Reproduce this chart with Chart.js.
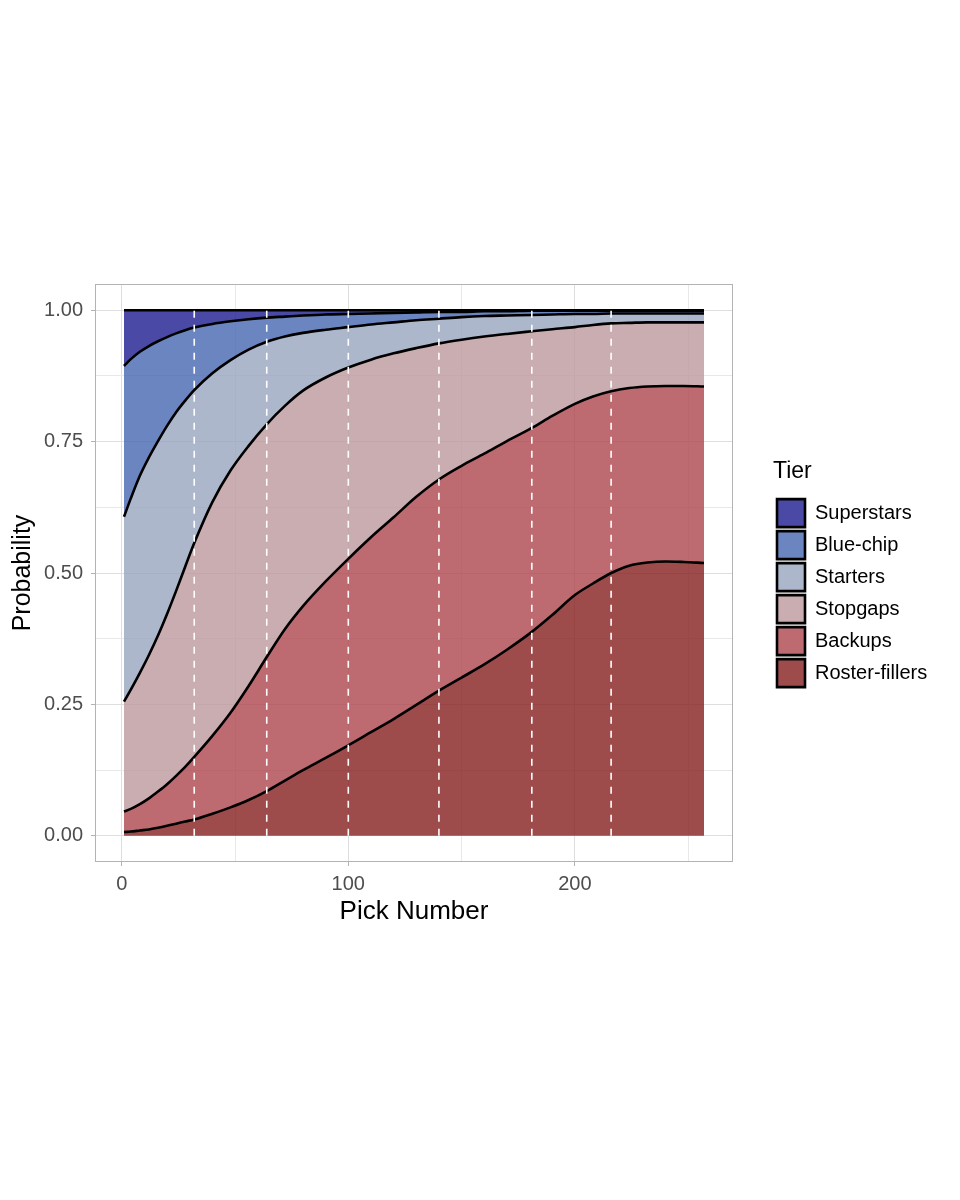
<!DOCTYPE html>
<html>
<head>
<meta charset="utf-8">
<script src="https://cdn.jsdelivr.net/npm/chart.js@4.4.1/dist/chart.umd.min.js"></script>
<style>
html, body { margin: 0; padding: 0; background: #ffffff; }
canvas { display: block; }
</style>
</head>
<body>
<canvas id="chart" width="960" height="1200" style="width:960px;height:1200px"></canvas>
<script>
// ---------- data ----------
const pickNumbers   = [1, 4, 8, 12, 16, 20, 24, 28, 32, 40, 48, 56, 64, 72, 80, 90, 100, 110, 120, 130, 140, 150, 160, 170, 181, 190, 200, 208, 216, 224, 232, 240, 248, 257];

const rosterFillers = [0.007, 0.008, 0.010, 0.012, 0.015, 0.019, 0.023, 0.027, 0.031, 0.042, 0.054, 0.068, 0.085, 0.105, 0.125, 0.148, 0.172, 0.197, 0.222, 0.249, 0.276, 0.301, 0.326, 0.354, 0.388, 0.420, 0.458, 0.480, 0.500, 0.514, 0.520, 0.522, 0.521, 0.519];
const backups       = [0.039, 0.043, 0.050, 0.059, 0.069, 0.079, 0.091, 0.104, 0.119, 0.148, 0.180, 0.217, 0.255, 0.288, 0.312, 0.336, 0.355, 0.371, 0.384, 0.396, 0.402, 0.403, 0.401, 0.397, 0.388, 0.379, 0.364, 0.356, 0.346, 0.338, 0.335, 0.334, 0.335, 0.336];
const stopgaps      = [0.209, 0.227, 0.250, 0.273, 0.297, 0.324, 0.352, 0.381, 0.407, 0.445, 0.461, 0.457, 0.443, 0.425, 0.410, 0.388, 0.364, 0.338, 0.312, 0.283, 0.259, 0.240, 0.223, 0.204, 0.184, 0.165, 0.146, 0.136, 0.129, 0.124, 0.122, 0.121, 0.121, 0.122];
const starters      = [0.352, 0.364, 0.375, 0.376, 0.370, 0.358, 0.340, 0.316, 0.291, 0.245, 0.210, 0.183, 0.157, 0.132, 0.110, 0.091, 0.077, 0.067, 0.059, 0.053, 0.047, 0.043, 0.039, 0.035, 0.031, 0.028, 0.025, 0.021, 0.019, 0.018, 0.017, 0.017, 0.017, 0.017];
const blueChip      = [0.287, 0.265, 0.236, 0.212, 0.190, 0.169, 0.150, 0.134, 0.119, 0.094, 0.074, 0.058, 0.046, 0.038, 0.033, 0.029, 0.025, 0.021, 0.018, 0.015, 0.013, 0.010, 0.009, 0.008, 0.008, 0.007, 0.006, 0.006, 0.005, 0.005, 0.005, 0.005, 0.005, 0.005];
const superstars    = [0.106, 0.093, 0.079, 0.068, 0.059, 0.051, 0.044, 0.038, 0.033, 0.026, 0.021, 0.017, 0.014, 0.012, 0.010, 0.008, 0.007, 0.006, 0.005, 0.004, 0.003, 0.003, 0.002, 0.002, 0.001, 0.001, 0.001, 0.001, 0.001, 0.001, 0.001, 0.001, 0.001, 0.001];

const tierNames  = ['Roster-fillers', 'Backups', 'Stopgaps', 'Starters', 'Blue-chip', 'Superstars'];
const tierValues = [rosterFillers, backups, stopgaps, starters, blueChip, superstars];

const roundCuts = [32, 64, 100, 140, 181, 216];

const xTickValues = [0, 50, 100, 150, 200, 250];
const xTickLabels = ['0', '', '100', '', '200', ''];
const yTickValues = [0, 0.125, 0.25, 0.375, 0.5, 0.625, 0.75, 0.875, 1];
const yTickLabels = ['0.00', '', '0.25', '', '0.50', '', '0.75', '', '1.00'];

const xTitle = 'Pick Number';
const yTitle = 'Probability';
const legendTitle = 'Tier';

// ---------- styles ----------
const tierColors = [
  'rgba(134, 30, 31, 0.8)',
  'rgba(174, 69, 77, 0.8)',
  'rgba(188, 153, 156, 0.8)',
  'rgba(151, 165, 191, 0.8)',
  'rgba(70, 103, 176, 0.8)',
  'rgba(29, 29, 144, 0.8)'
];
const FONT = "'Liberation Sans', Arial, Helvetica, sans-serif";
Chart.defaults.font.family = FONT;

const tierDatasets = tierNames.map((name, t) => ({
  label: name,
  data: pickNumbers.map((x, i) => ({ x: x, y: tierValues[t][i] })),
  backgroundColor: tierColors[t],
  borderColor: '#000000',
  borderWidth: 2.6,
  fill: t === 0 ? 'origin' : '-1',
  pointRadius: 0,
  cubicInterpolationMode: 'monotone',
  order: 1
}));

const cutDatasets = roundCuts.map((c, k) => ({
  label: '',
  data: [{ x: c, y: 0 }, { x: c, y: 1 }],
  stack: 'cut' + k,
  borderColor: '#ffffff',
  borderWidth: 1.6,
  borderDash: [7, 7],
  fill: false,
  pointRadius: 0,
  order: 0
}));

const panelBorder = {
  id: 'panelBorder',
  beforeInit(chart) {
    const lg = chart.legend;
    if (lg) {
      const origFit = lg.fit;
      lg.fit = function () { origFit.call(this); this.width = 227; };
    }
  },
  afterLayout(chart) {
    const lg = chart.legend;
    if (lg) {
      lg.left = 773; lg.right = 960;
      lg.top = 460.5; lg.bottom = 1200;
    }
  },
  afterDatasetsDraw(chart) {
    const { ctx, chartArea: a } = chart;
    ctx.save();
    ctx.strokeStyle = '#b3b3b3';
    ctx.lineWidth = 1;
    ctx.strokeRect(Math.round(a.left) + 0.5, Math.round(a.top) + 0.5,
                   Math.round(a.right - a.left) - 1, Math.round(a.bottom - a.top) - 1);
    ctx.restore();
  }
};

new Chart(document.getElementById('chart'), {
  type: 'line',
  data: { datasets: tierDatasets.concat(cutDatasets) },
  options: {
    responsive: false,
    animation: false,
    devicePixelRatio: 1,
    layout: { padding: { top: 284, bottom: 250, left: 0, right: 0 } },
    plugins: {
      filler: { drawTime: 'beforeDatasetsDraw' },
      tooltip: { enabled: false },
      legend: {
        position: 'right',
        align: 'start',
        reverse: true,
        title: {
          display: true,
          text: legendTitle,
          position: 'start',
          color: '#000000',
          font: { size: 23, family: FONT },
          padding: { top: 0, bottom: 7 }
        },
        labels: {
          filter: (item) => tierNames.includes(item.text),
          boxWidth: 28,
          boxHeight: 28,
          padding: 4,
          color: '#000000',
          font: { size: 20, family: FONT }
        }
      }
    },
    scales: {
      x: {
        type: 'linear',
        min: -11.8,
        max: 269.8,
        afterBuildTicks: (s) => { s.ticks = xTickValues.map(v => ({ value: v })); },
        afterFit: (s) => { s.height = 88; },
        ticks: {
          autoSkip: false,
          maxRotation: 0,
          padding: 6,
          color: '#4d4d4d',
          font: { size: 20, family: FONT },
          callback: (v) => { const i = xTickValues.indexOf(v); return i >= 0 ? xTickLabels[i] : ''; }
        },
        grid: {
          color: (c) => (xTickLabels[xTickValues.indexOf(c.tick && c.tick.value)] ? '#dedede' : '#e8e8e8'),
          lineWidth: 1,
          tickLength: 4,
          tickColor: (c) => (xTickLabels[xTickValues.indexOf(c.tick && c.tick.value)] ? '#b3b3b3' : 'rgba(0,0,0,0)')
        },
        border: { display: false },
        title: {
          display: true,
          text: xTitle,
          color: '#000000',
          font: { size: 26, family: FONT },
          padding: { top: 0, bottom: 23 }
        }
      },
      y: {
        type: 'linear',
        stacked: true,
        min: -0.05,
        max: 1.05,
        afterBuildTicks: (s) => { s.ticks = yTickValues.map(v => ({ value: v })); },
        afterFit: (s) => { s.width = 95; },
        ticks: {
          autoSkip: false,
          padding: 8,
          color: '#4d4d4d',
          font: { size: 20, family: FONT },
          callback: (v) => { const i = yTickValues.indexOf(v); return i >= 0 ? yTickLabels[i] : ''; }
        },
        grid: {
          color: (c) => (yTickLabels[yTickValues.indexOf(c.tick && c.tick.value)] ? '#dedede' : '#e8e8e8'),
          lineWidth: 1,
          tickLength: 4,
          tickColor: (c) => (yTickLabels[yTickValues.indexOf(c.tick && c.tick.value)] ? '#b3b3b3' : 'rgba(0,0,0,0)')
        },
        border: { display: false },
        title: {
          display: true,
          text: yTitle,
          color: '#000000',
          font: { size: 25, family: FONT },
          padding: { top: 8, bottom: 0 }
        }
      }
    }
  },
  plugins: [panelBorder]
});
</script>
</body>
</html>
